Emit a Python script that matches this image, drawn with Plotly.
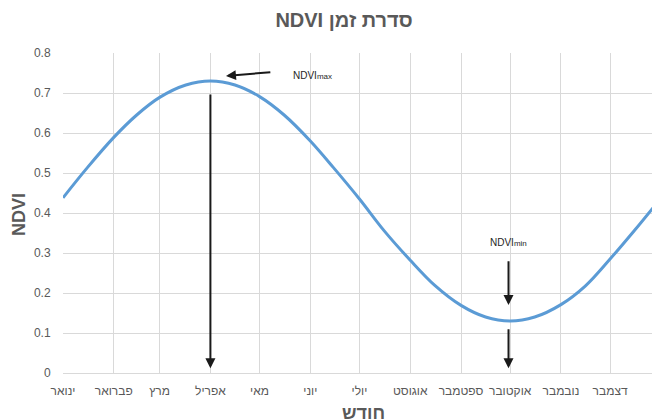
import plotly.graph_objects as go

# Day-of-year positions (x) and NDVI values
days = [0, 15, 31, 45, 59, 75, 90, 105, 120, 135, 151, 165, 181, 196, 212,
        227, 243, 258, 273, 288, 304, 319, 334, 349, 361]
ndvi = [0.438, 0.514, 0.589, 0.645, 0.689, 0.720, 0.730, 0.720, 0.691, 0.645,
        0.580, 0.514, 0.435, 0.356, 0.282, 0.219, 0.169, 0.140, 0.130, 0.140,
        0.171, 0.218, 0.285, 0.357, 0.417]

month_starts = [0, 31, 59, 90, 120, 151, 181, 212, 243, 273, 304, 334]
month_labels = ["ינואר", "פברואר", "מרץ", "אפריל", "מאי", "יוני", "יולי",
                "אוגוסט", "ספטמבר", "אוקטובר", "נובמבר", "דצמבר"]
y_ticks = [0, 0.1, 0.2, 0.3, 0.4, 0.5, 0.6, 0.7, 0.8]

GRAY = "#595959"
GRID = "#d9d9d9"
FONT = "Liberation Sans, Open Sans, DejaVu Sans, sans-serif"

W, H = 652, 419
L, R, T, B = 63, 0, 53, 46
pw, ph = W - L - R, H - T - B


def px_x(px):
    return (px - L) / pw


def px_y(py):
    return (H - B - py) / ph


fig = go.Figure()
fig.add_trace(go.Scatter(
    x=days, y=ndvi, mode="lines",
    line=dict(color="#5b9bd5", width=3, shape="spline", smoothing=1.0),
    hoverinfo="skip", showlegend=False,
))

arrow = dict(showarrow=True, text="", xref="x", yref="y", axref="x", ayref="y",
             arrowhead=2, arrowsize=1, arrowwidth=2, arrowcolor="#1a1a1a",
             standoff=0, startstandoff=0)

annotations = [
    dict(x=99.5, y=0.7425, ax=127.5, ay=0.7525, **arrow),
    dict(x=90, y=0.012, ax=90, ay=0.70, **arrow),
    dict(x=272, y=0.17, ax=272, ay=0.283, **arrow),
    dict(x=272, y=0.012, ax=272, ay=0.113, **arrow),
    dict(x=139, y=0.745, xref="x", yref="y",
         text="NDVI<span style='font-size:8px'>max</span>",
         showarrow=False, xanchor="left", yanchor="middle",
         font=dict(size=10, color="#262626", family=FONT)),
    dict(x=272, y=0.327, xref="x", yref="y",
         text="NDVI<span style='font-size:8px'>min</span>",
         showarrow=False, xanchor="center", yanchor="middle",
         font=dict(size=10, color="#262626", family=FONT)),
    dict(x=px_x(19), y=px_y(215), xref="paper", yref="paper",
         text="<b>NDVI</b>", showarrow=False, textangle=-90,
         xanchor="center", yanchor="middle",
         font=dict(size=18, color=GRAY, family=FONT)),
    dict(x=px_x(363), y=px_y(413), xref="paper", yref="paper",
         text="<b>חודש</b>", showarrow=False, xanchor="center", yanchor="middle",
         font=dict(size=18, color=GRAY, family=FONT)),
]

fig.update_layout(
    width=W, height=H,
    margin=dict(l=L, r=R, t=T, b=B, autoexpand=False),
    paper_bgcolor="white", plot_bgcolor="white",
    font=dict(family=FONT, color=GRAY, size=12),
    title=dict(text="<b>NDVI סדרת זמן</b>", x=344 / W, xanchor="center",
               xref="container", y=1 - 20 / H, yanchor="middle", yref="container",
               font=dict(size=20, color=GRAY, family=FONT)),
    annotations=annotations,
    showlegend=False,
)
fig.update_xaxes(
    range=[0, 359.6], tickmode="array", tickvals=month_starts, ticktext=month_labels,
    showgrid=True, gridcolor=GRID, gridwidth=1, zeroline=False, automargin=False,
    showline=True, linecolor=GRID, linewidth=1,
    ticks="outside", ticklen=7, tickcolor="rgba(0,0,0,0)",
    tickfont=dict(size=12, color=GRAY, family=FONT),
)
fig.update_yaxes(
    range=[0, 0.8], tickmode="array", tickvals=y_ticks,
    ticktext=[("%g" % v) for v in y_ticks], automargin=False,
    showgrid=True, gridcolor=GRID, gridwidth=1, zeroline=False, showline=False,
    ticks="outside", ticklen=9, tickcolor="rgba(0,0,0,0)",
    tickfont=dict(size=12, color=GRAY, family=FONT),
)

fig.write_html(
    "out.html",
    config={"displayModeBar": False, "staticPlot": True},
    post_script="document.body.style.margin='0';"
                "document.documentElement.style.overflow='hidden';"
                "document.body.style.overflow='hidden';",
)
